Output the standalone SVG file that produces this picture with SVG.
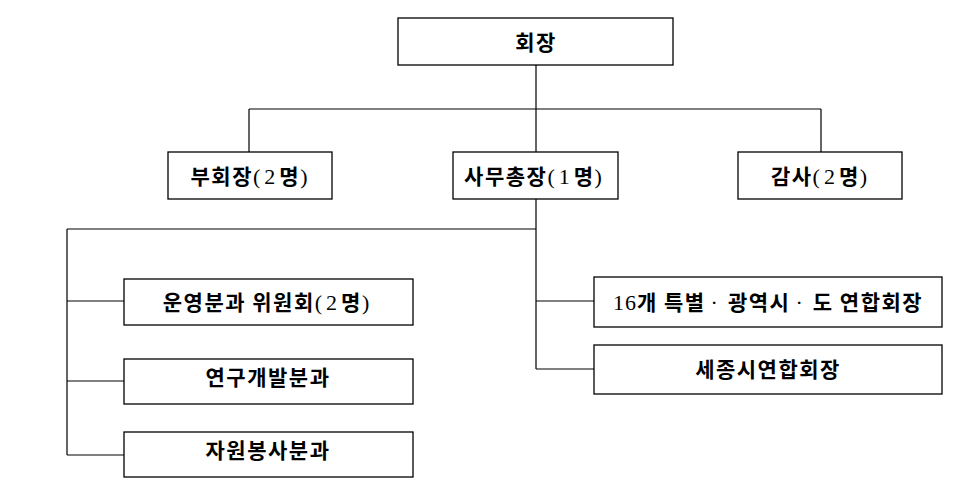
<svg xmlns="http://www.w3.org/2000/svg" width="954" height="484" viewBox="0 0 954 484">
<style>
.box{fill:#fff;stroke:#000;stroke-width:1.3}
.ln{fill:none;stroke:#000;stroke-width:1.2}
text{font-family:"Noto Sans CJK KR","Noto Sans",sans-serif;font-size:21px;font-weight:bold;fill:#000;text-anchor:middle;letter-spacing:1.5px}
.n{font-weight:normal;font-family:"Liberation Serif","Noto Sans CJK KR",serif;font-size:22px;letter-spacing:4px}
</style>
<rect width="954" height="484" fill="#fff"/>
<g id="connectors">
<path class="ln" d="M536 65V152M249 109H821M249 109V152M821 109V152"/>
<path class="ln" d="M536 199V369M67 229H536M67 229V455M67 301H124M67 381H124M67 455H124M536 301H594M536 369H594"/>
</g>
<g id="n-chair"><rect class="box" x="398" y="18" width="275" height="47"/><text x="536" y="50">회장</text></g>
<g id="n-vice"><rect class="box" x="168" y="152" width="164" height="47"/><text x="251" y="184">부회장<tspan class="n">(2</tspan>명<tspan class="n">)</tspan></text></g>
<g id="n-sec"><rect class="box" x="453" y="152" width="165" height="47"/><text x="535" y="184">사무총장<tspan class="n">(1</tspan>명<tspan class="n">)</tspan></text></g>
<g id="n-audit"><rect class="box" x="738" y="152" width="164" height="47"/><text x="821" y="184">감사<tspan class="n">(2</tspan>명<tspan class="n">)</tspan></text></g>
<g id="n-ops"><rect class="box" x="124" y="279" width="289" height="46"/><text x="268" y="310">운영분과 위원회<tspan class="n">(2</tspan>명<tspan class="n">)</tspan></text></g>
<g id="n-rnd"><rect class="box" x="124" y="359" width="289" height="45"/><text x="268" y="385">연구개발분과</text></g>
<g id="n-vol"><rect class="box" x="124" y="432" width="289" height="45"/><text x="268" y="458">자원봉사분과</text></g>
<g id="n-metro"><rect class="box" x="594" y="277" width="348" height="50"/><text x="768" y="310"><tspan class="n" style="letter-spacing:1px">16</tspan>개 특별<tspan class="n" dx="5" style="letter-spacing:10px">·</tspan>광역시<tspan class="n" dx="5" style="letter-spacing:10px">·</tspan>도 연합회장</text></g>
<g id="n-sejong"><rect class="box" x="594" y="345" width="348" height="49"/><text x="768" y="377">세종시연합회장</text></g>
</svg>
